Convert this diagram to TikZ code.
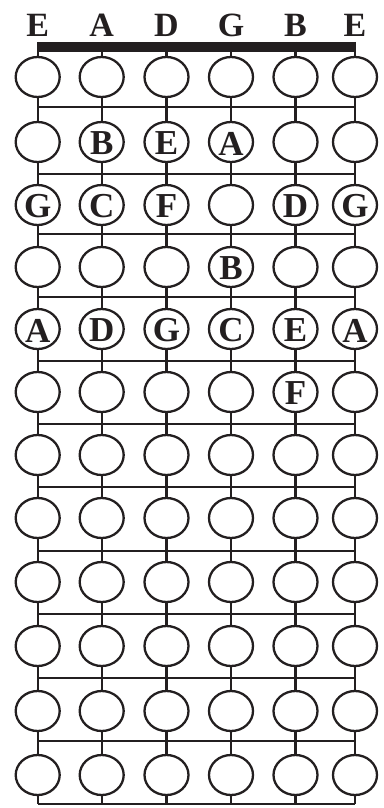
\documentclass[tikz,border=0pt]{standalone}
\usepackage{fontspec}
\setmainfont{Liberation Serif}
\usetikzlibrary{shapes.geometric}
\definecolor{ink}{HTML}{231F20}
\tikzset{
  fretdot/.style={ellipse, draw=ink, line width=2.3pt, fill=white,
    minimum width=44pt, minimum height=40pt, inner sep=0pt},
  notelbl/.style={inner sep=0pt, text=ink, yshift=-1.5pt,
    font=\fontsize{35}{35}\selectfont\bfseries},
  headlbl/.style={inner sep=0pt, text=ink,
    font=\fontsize{34}{34}\selectfont\bfseries},
  strline/.style={draw=ink, line width=2.3pt},
  fretline/.style={draw=ink, line width=2pt},
  nutbar/.style={fill=ink}
}
\begin{document}
\begin{tikzpicture}[x=1pt,y=-1pt]
\useasboundingbox (0,0) rectangle (383,808);
% string positions
\foreach \c/\x in {1/37.7,2/101.7,3/166.5,4/231,5/295.5,6/355}{
  \coordinate (top-\c) at (\x,42);
  \coordinate (bot-\c) at (\x,804);
  \foreach \r/\fy in {1/107,2/174,3/234,4/297,5/361,6/424,7/487,8/551,9/614,10/678,11/741,12/804}{
    \coordinate (f-\r-\c) at (\x,\fy);
  }
}
% heading letters
\foreach \c/\t in {1/E,2/A,3/D,4/G,5/B,6/E}{
  \node[headlbl] (h-\c) at ([yshift=17pt]top-\c) {\t};
}
% nut
\fill[nutbar] (top-1) rectangle ([xshift=1pt,yshift=-10pt]top-6);
% strings
\foreach \c in {1,...,6}{
  \draw[strline] (top-\c) -- (bot-\c);
}
% frets
\foreach \r in {1,...,12}{
  \draw[fretline] (f-\r-1) -- (f-\r-6);
}
% ovals
\foreach \r/\y in {1/77,2/142,3/205,4/267,5/329,6/392,7/455,8/518,9/582,10/646,11/711,12/775}{
  \foreach \c/\x in {1/37.7,2/101.7,3/166.5,4/231,5/295.5,6/355}{
    \node[fretdot] (o-\r-\c) at (\x,\y) {};
  }
}
% note names
\foreach \r/\c/\t in {2/2/B,2/3/E,2/4/A,
  3/1/G,3/2/C,3/3/F,3/5/D,3/6/G,
  4/4/B,
  5/1/A,5/2/D,5/3/G,5/4/C,5/5/E,5/6/A,
  6/5/F}{
  \node[notelbl] (n-\r-\c) at (o-\r-\c) {\t};
}
\end{tikzpicture}
\end{document}
